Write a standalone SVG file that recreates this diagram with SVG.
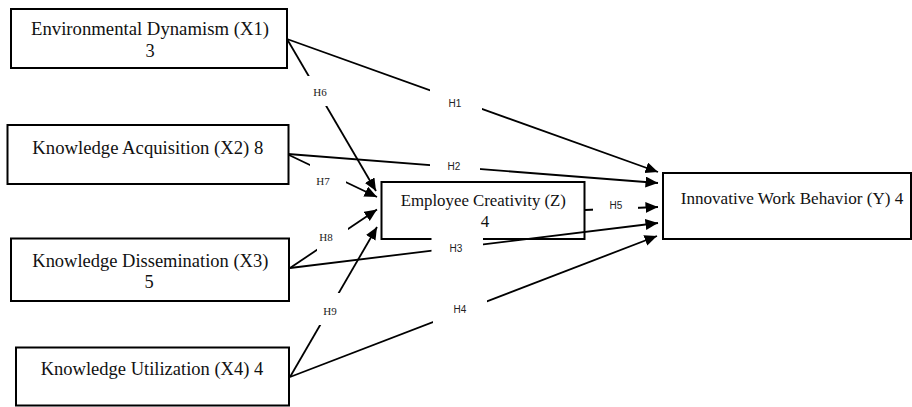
<svg xmlns="http://www.w3.org/2000/svg" width="912" height="407" viewBox="0 0 912 407">
  <style>
    .box { fill: #ffffff; stroke: #000000; stroke-width: 2; }
    .t { font-family: "Liberation Serif", "Times New Roman", serif; font-size: 18.4px; fill: #111111; }
    .s { font-size: 17px; }
    .c { text-anchor: middle; }
    .ln { fill: none; stroke: #000000; stroke-width: 1.8; marker-end: url(#ah); }
    .lb { fill: #ffffff; stroke: none; }
    .hs { font-family: "Liberation Sans", Arial, sans-serif; font-size: 10px; fill: #222222; text-anchor: middle; }
    .hr { font-family: "Liberation Serif", "Times New Roman", serif; font-size: 11px; fill: #222222; text-anchor: middle; }
  </style>
  <defs>
    <marker id="ah" markerUnits="userSpaceOnUse" markerWidth="14" markerHeight="12" refX="12.5" refY="5.5" orient="auto">
      <path d="M0,0 L12.5,5.5 L0,11 Z" fill="#000000"/>
    </marker>
  </defs>
  <rect x="0" y="0" width="912" height="407" fill="#ffffff"/>

  <g id="node-x1">
    <rect class="box" x="11" y="9" width="276" height="59"/>
    <text class="t" x="31" y="35" textLength="238" lengthAdjust="spacingAndGlyphs">Environmental Dynamism (X1)</text>
    <text class="t c" x="150" y="57">3</text>
  </g>
  <g id="node-x2">
    <rect class="box" x="7.5" y="125" width="281" height="59"/>
    <text class="t" x="32.3" y="154" textLength="231" lengthAdjust="spacingAndGlyphs">Knowledge Acquisition (X2) 8</text>
  </g>
  <g id="node-x3">
    <rect class="box" x="11" y="238.5" width="278" height="62.5"/>
    <text class="t" x="32.3" y="266.7" textLength="236" lengthAdjust="spacingAndGlyphs">Knowledge Dissemination (X3)</text>
    <text class="t c" x="149" y="288">5</text>
  </g>
  <g id="node-x4">
    <rect class="box" x="16" y="347.5" width="273" height="58"/>
    <text class="t" x="40.7" y="375" textLength="222.6" lengthAdjust="spacingAndGlyphs">Knowledge Utilization (X4) 4</text>
  </g>
  <g id="node-z">
    <rect class="box" x="381.5" y="182" width="203" height="57"/>
    <text class="t s" x="400.7" y="206.3" textLength="165.3" lengthAdjust="spacingAndGlyphs">Employee Creativity (Z)</text>
    <text class="t s c" x="485" y="227">4</text>
  </g>
  <g id="node-y">
    <rect class="box" x="663" y="173" width="248" height="66"/>
    <text class="t s" x="680.7" y="204" textLength="222.6" lengthAdjust="spacingAndGlyphs">Innovative Work Behavior (Y) 4</text>
  </g>

  <g id="connectors">
    <line class="ln" x1="287" y1="39" x2="658" y2="172"/>
    <line class="ln" x1="288" y1="154" x2="658" y2="183"/>
    <line class="ln" x1="290" y1="268" x2="658" y2="223"/>
    <line class="ln" x1="290" y1="377" x2="657" y2="236"/>
    <line class="ln" x1="585" y1="210" x2="658" y2="207"/>
    <line class="ln" x1="287" y1="39" x2="376" y2="191"/>
    <line class="ln" x1="289" y1="155" x2="377" y2="197"/>
    <line class="ln" x1="290" y1="268" x2="377" y2="209.5"/>
    <line class="ln" x1="290" y1="377" x2="377" y2="227"/>
  </g>

  <g id="labels">
    <g id="label-h1"><rect class="lb" x="430" y="85" width="52" height="27"/><text class="hs" x="455" y="107">H1</text></g>
    <g id="label-h2"><rect class="lb" x="430" y="158" width="50" height="16"/><text class="hs" x="454" y="170">H2</text></g>
    <g id="label-h3"><rect class="lb" x="431.5" y="237" width="51.5" height="18"/><text class="hs" x="456" y="252">H3</text></g>
    <g id="label-h4"><rect class="lb" x="433" y="299" width="54" height="26"/><text class="hs" x="460" y="313">H4</text></g>
    <g id="label-h5"><rect class="lb" x="593" y="198" width="45" height="18"/><text class="hs" x="616" y="209">H5</text></g>
    <g id="label-h6"><rect class="lb" x="300" y="76" width="40" height="30"/><text class="hr" x="320" y="96">H6</text></g>
    <g id="label-h7"><rect class="lb" x="310" y="160" width="36" height="30"/><text class="hr" x="323" y="185">H7</text></g>
    <g id="label-h8"><rect class="lb" x="317" y="226" width="31" height="27"/><text class="hr" x="326" y="241">H8</text></g>
    <g id="label-h9"><rect class="lb" x="312" y="293" width="33" height="32"/><text class="hr" x="330" y="315">H9</text></g>
  </g>
</svg>
